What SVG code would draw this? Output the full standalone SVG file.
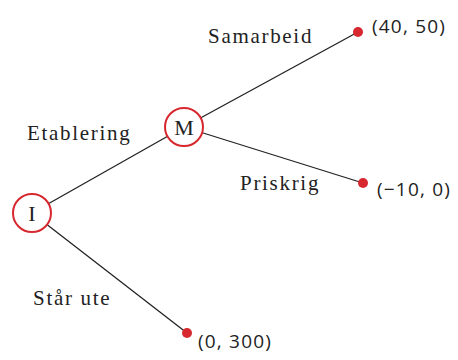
<svg xmlns="http://www.w3.org/2000/svg" width="458" height="360" viewBox="0 0 458 360">
<style>
.edge{stroke:#222;stroke-width:1.3;fill:none}
.node{fill:#fff;stroke:#d7282f;stroke-width:2}
.dot{fill:#d7282f}
.lbl{font-family:"Liberation Serif",serif;font-size:21px;letter-spacing:1.7px;fill:#222}
.nl{font-family:"Liberation Serif",serif;font-size:22px;fill:#222}
.pay{font-family:"Open Sans","Liberation Sans",sans-serif;font-size:19px;letter-spacing:1.2px;fill:#222}
</style>
<rect width="458" height="360" fill="#fff"/>
<g id="connectors">
<line class="edge" x1="32" y1="213" x2="184" y2="127"/>
<line class="edge" x1="184" y1="127" x2="358" y2="32"/>
<line class="edge" x1="184" y1="127" x2="363" y2="183"/>
<line class="edge" x1="32" y1="213" x2="187" y2="333"/>
</g>
<g id="node-I">
<circle class="node" cx="32" cy="213" r="19"/>
<text class="nl" x="32" y="220.5" text-anchor="middle">I</text>
</g>
<g id="node-M">
<circle class="node" cx="184" cy="127" r="19"/>
<text class="nl" x="184" y="134.5" text-anchor="middle">M</text>
</g>
<g id="leaf-samarbeid">
<circle class="dot" cx="358" cy="32" r="5"/>
<text class="pay" x="372" y="33">(40, 50)</text>
</g>
<g id="leaf-priskrig">
<circle class="dot" cx="363" cy="183" r="5"/>
<text class="pay" x="377" y="196">(−10, 0)</text>
</g>
<g id="leaf-starute">
<circle class="dot" cx="187" cy="333" r="5"/>
<text class="pay" x="198" y="348">(0, 300)</text>
</g>
<g id="labels">
<text class="lbl" x="208" y="43">Samarbeid</text>
<text class="lbl" x="27" y="140">Etablering</text>
<text class="lbl" x="240" y="190">Priskrig</text>
<text class="lbl" x="33" y="305">Står ute</text>
</g>
</svg>
